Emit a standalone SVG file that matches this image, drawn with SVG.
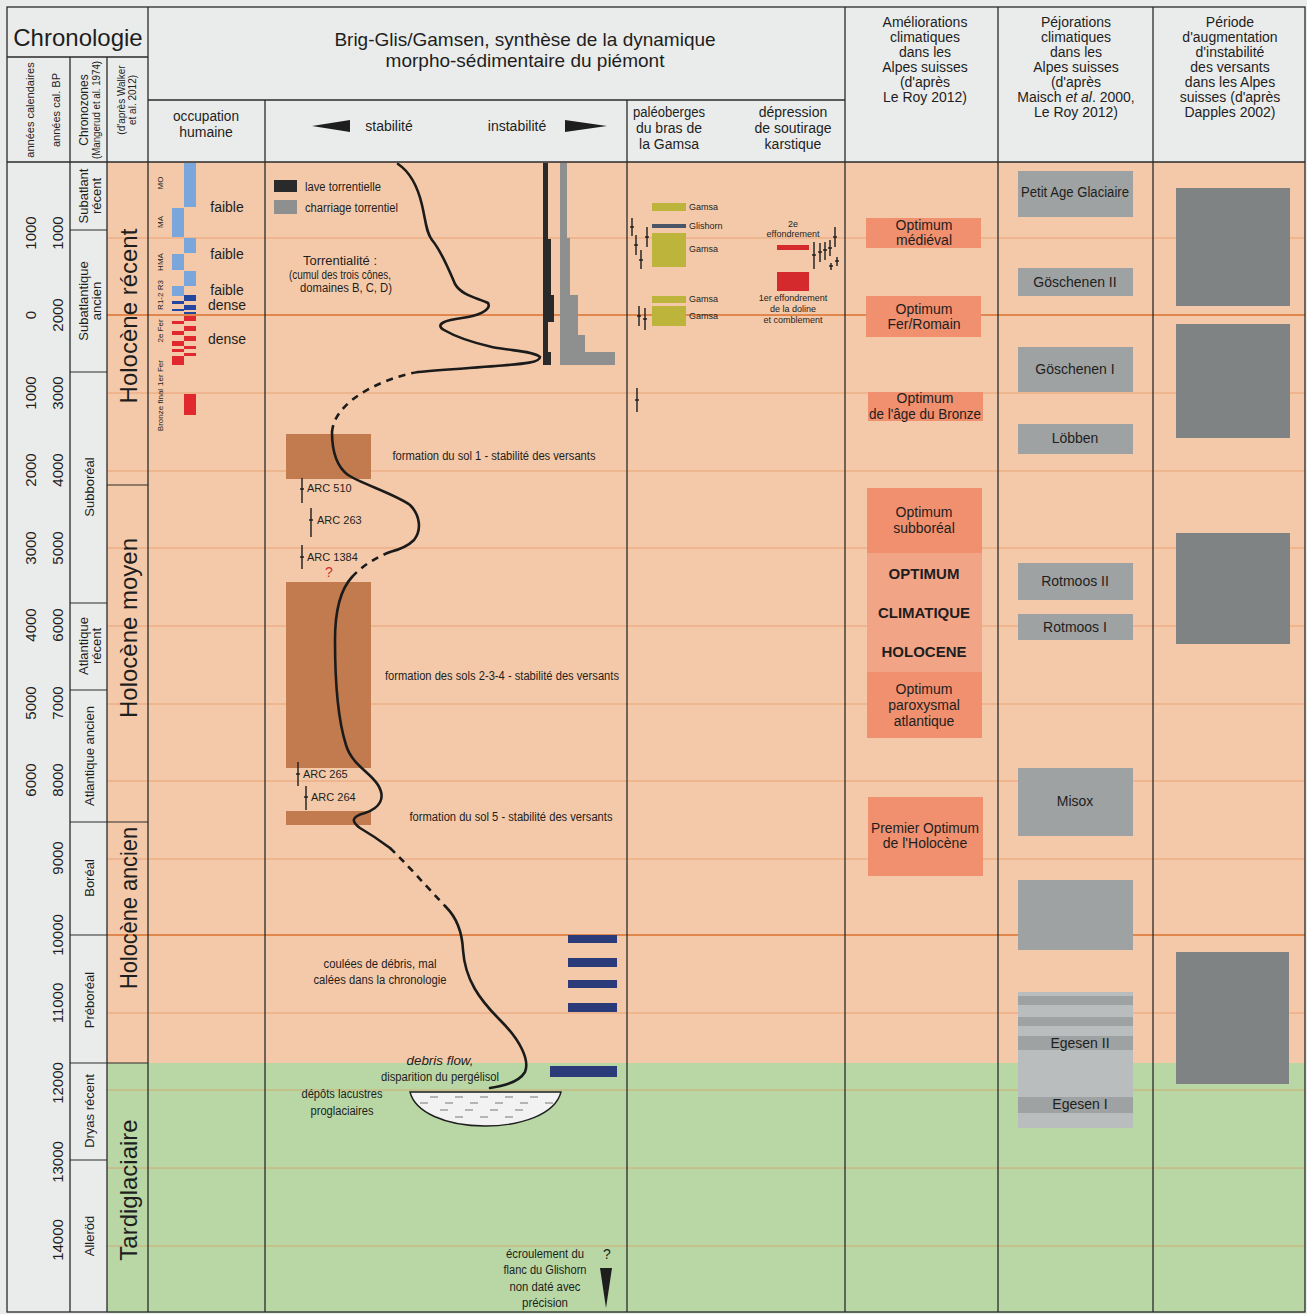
<svg xmlns="http://www.w3.org/2000/svg" width="1307" height="1314" viewBox="0 0 1307 1314">
<defs>
<style>
.t{font-family:"Liberation Sans",Arial,sans-serif;fill:#1e1e1e}
.c{text-anchor:middle}
.fr{stroke:#2a2a2a;stroke-width:1.3;fill:none}
.gr{stroke:#e3915c;stroke-width:0.8;opacity:0.8}
.gt{stroke:#d9702f;stroke-width:1.6}
.cv{fill:none;stroke:#1b1b1b;stroke-width:2.6;stroke-linecap:round}
.dash{stroke-dasharray:7 6;stroke-linecap:butt}
.soil{fill:#c27a4f}
.opt{fill:#f0906e}
.pej{fill:#9ea2a2}
.dap{fill:#7f8383}
.lb{fill:#7ba6db}
.db{fill:#2347a0}
.rd{fill:#e0282e}
.nv{fill:#2b3a78}
.gam{fill:#bdb43c}
.tk{stroke:#1b1b1b;stroke-width:1.4}
</style>
</defs>
<rect width="1307" height="1314" fill="#eaeceb"/>
<rect x="107" y="162" width="1198" height="901" fill="#f4c9a9"/>
<rect x="107" y="1063" width="1198" height="250" fill="#b8d7a5"/>
<g id="grid">
<line class="gr" x1="107" y1="238" x2="1305" y2="238"/>
<line class="gt" x1="107" y1="315" x2="1305" y2="315"/>
<line class="gr" x1="107" y1="393" x2="1305" y2="393"/>
<line class="gr" x1="107" y1="471" x2="1305" y2="471"/>
<line class="gr" x1="107" y1="548" x2="1305" y2="548"/>
<line class="gr" x1="107" y1="626" x2="1305" y2="626"/>
<line class="gr" x1="107" y1="704" x2="1305" y2="704"/>
<line class="gr" x1="107" y1="781" x2="1305" y2="781"/>
<line class="gr" x1="107" y1="859" x2="1305" y2="859"/>
<line class="gt" x1="107" y1="935" x2="1305" y2="935"/>
<line class="gr" x1="107" y1="1013" x2="1305" y2="1013"/>
<line class="gr" x1="107" y1="1090" x2="1305" y2="1090"/>
<line class="gr" x1="107" y1="1168" x2="1305" y2="1168"/>
<line class="gr" x1="107" y1="1246" x2="1305" y2="1246"/>
</g>
<g id="header">
<text class="t c" x="78" y="46" font-size="24">Chronologie</text>
<text class="t c" font-size="11" transform="translate(34,110) rotate(-90)">années calendaires</text>
<text class="t c" font-size="11" transform="translate(60,110) rotate(-90)">années cal. BP</text>
<text class="t c" font-size="12" transform="translate(88,110) rotate(-90)">Chronozones</text>
<text class="t c" font-size="11" textLength="98" lengthAdjust="spacingAndGlyphs" transform="translate(100,110) rotate(-90)">(Mangerud et al. 1974)</text>
<text class="t c" font-size="10" transform="translate(125,100) rotate(-90)">(d'après Walker</text>
<text class="t c" font-size="10" transform="translate(136,100) rotate(-90)">et al. 2012)</text>
<text class="t c" x="525" y="46" font-size="19">Brig-Glis/Gamsen, synthèse de la dynamique</text>
<text class="t c" x="525" y="67" font-size="19">morpho-sédimentaire du piémont</text>
<text class="t c" x="206" y="121" font-size="14" textLength="66" lengthAdjust="spacingAndGlyphs">occupation</text>
<text class="t c" x="206" y="137" font-size="14">humaine</text>
<polygon points="312,126 350,120 350,132" fill="#1e1e1e"/>
<text class="t c" x="389" y="131" font-size="14">stabilité</text>
<text class="t c" x="517" y="131" font-size="14">instabilité</text>
<polygon points="607,126 565,120 565,132" fill="#1e1e1e"/>
<text class="t c" x="669" y="117" font-size="14" textLength="72" lengthAdjust="spacingAndGlyphs">paléoberges</text>
<text class="t c" x="669" y="133" font-size="14">du bras de</text>
<text class="t c" x="669" y="149" font-size="14">la Gamsa</text>
<text class="t c" x="793" y="117" font-size="14">dépression</text>
<text class="t c" x="793" y="133" font-size="14">de soutirage</text>
<text class="t c" x="793" y="149" font-size="14">karstique</text>
<g font-size="14">
<text class="t c" x="925" y="27">Améliorations</text>
<text class="t c" x="925" y="42">climatiques</text>
<text class="t c" x="925" y="57">dans les</text>
<text class="t c" x="925" y="72">Alpes suisses</text>
<text class="t c" x="925" y="87">(d'après</text>
<text class="t c" x="925" y="102">Le Roy 2012)</text>
<text class="t c" x="1076" y="27">Péjorations</text>
<text class="t c" x="1076" y="42">climatiques</text>
<text class="t c" x="1076" y="57">dans les</text>
<text class="t c" x="1076" y="72">Alpes suisses</text>
<text class="t c" x="1076" y="87">(d'après</text>
<text class="t c" x="1076" y="102">Maisch <tspan font-style="italic">et al</tspan>. 2000,</text>
<text class="t c" x="1076" y="117">Le Roy 2012)</text>
<text class="t c" x="1230" y="27">Période</text>
<text class="t c" x="1230" y="42">d'augmentation</text>
<text class="t c" x="1230" y="57">d'instabilité</text>
<text class="t c" x="1230" y="72">des versants</text>
<text class="t c" x="1230" y="87">dans les Alpes</text>
<text class="t c" x="1230" y="102">suisses (d'après</text>
<text class="t c" x="1230" y="117">Dapples 2002)</text>
</g>
</g>
<g id="years" font-size="15">
<text class="t c" transform="translate(36,233) rotate(-90)">1000</text>
<text class="t c" transform="translate(36,315) rotate(-90)">0</text>
<text class="t c" transform="translate(36,393) rotate(-90)">1000</text>
<text class="t c" transform="translate(36,470) rotate(-90)">2000</text>
<text class="t c" transform="translate(36,548) rotate(-90)">3000</text>
<text class="t c" transform="translate(36,625) rotate(-90)">4000</text>
<text class="t c" transform="translate(36,703) rotate(-90)">5000</text>
<text class="t c" transform="translate(36,780) rotate(-90)">6000</text>
<text class="t c" transform="translate(63,233) rotate(-90)">1000</text>
<text class="t c" transform="translate(63,315) rotate(-90)">2000</text>
<text class="t c" transform="translate(63,393) rotate(-90)">3000</text>
<text class="t c" transform="translate(63,470) rotate(-90)">4000</text>
<text class="t c" transform="translate(63,548) rotate(-90)">5000</text>
<text class="t c" transform="translate(63,625) rotate(-90)">6000</text>
<text class="t c" transform="translate(63,703) rotate(-90)">7000</text>
<text class="t c" transform="translate(63,780) rotate(-90)">8000</text>
<text class="t c" transform="translate(63,858) rotate(-90)">9000</text>
<text class="t c" transform="translate(63,935) rotate(-90)">10000</text>
<text class="t c" transform="translate(63,1003) rotate(-90)">11000</text>
<text class="t c" transform="translate(63,1083) rotate(-90)">12000</text>
<text class="t c" transform="translate(63,1162) rotate(-90)">13000</text>
<text class="t c" transform="translate(63,1240) rotate(-90)">14000</text>
</g>
<g id="chronozones" font-size="13">
<text class="t c" transform="translate(88,196) rotate(-90)">Subatlant</text>
<text class="t c" transform="translate(101,196) rotate(-90)">récent</text>
<text class="t c" transform="translate(88,301) rotate(-90)">Subatlantique</text>
<text class="t c" transform="translate(101,301) rotate(-90)">ancien</text>
<text class="t c" transform="translate(94,487) rotate(-90)">Subboréal</text>
<text class="t c" transform="translate(88,646) rotate(-90)">Atlantique</text>
<text class="t c" transform="translate(101,646) rotate(-90)">récent</text>
<text class="t c" transform="translate(94,756) rotate(-90)">Atlantique ancien</text>
<text class="t c" transform="translate(94,878) rotate(-90)">Boréal</text>
<text class="t c" transform="translate(94,1000) rotate(-90)">Préboréal</text>
<text class="t c" transform="translate(94,1111) rotate(-90)">Dryas récent</text>
<text class="t c" transform="translate(94,1236) rotate(-90)">Alleröd</text>
</g>
<g id="walker" font-size="24">
<text class="t c" transform="translate(137,316) rotate(-90)">Holocène récent</text>
<text class="t c" transform="translate(137,628) rotate(-90)">Holocène moyen</text>
<text class="t c" transform="translate(137,908) rotate(-90)" textLength="162" lengthAdjust="spacingAndGlyphs">Holocène ancien</text>
<text class="t c" transform="translate(137,1190) rotate(-90)">Tardiglaciaire</text>
</g>
<g id="occupation">
<g font-size="8">
<text class="t c" transform="translate(163,183) rotate(-90)">MO</text>
<text class="t c" transform="translate(163,222) rotate(-90)">MA</text>
<text class="t c" transform="translate(163,262) rotate(-90)">HMA</text>
<text class="t c" transform="translate(163,295) rotate(-90)">R1-2 R3</text>
<text class="t c" transform="translate(163,331) rotate(-90)">2e Fer</text>
<text class="t c" transform="translate(163,373) rotate(-90)">1er Fer</text>
<text class="t c" transform="translate(163,410) rotate(-90)">Bronze final</text>
</g>
<rect class="lb" x="184" y="163" width="12" height="44"/>
<rect class="lb" x="172" y="208" width="12" height="29"/>
<rect class="lb" x="184" y="238" width="12" height="15"/>
<rect class="lb" x="172" y="254" width="12" height="16"/>
<rect class="lb" x="184" y="271" width="12" height="15"/>
<rect class="lb" x="172" y="286" width="12" height="10"/>
<rect class="db" x="184" y="295" width="12" height="6"/>
<rect class="db" x="172" y="301" width="12" height="3"/>
<rect class="db" x="184" y="305" width="12" height="5"/>
<rect class="db" x="172" y="309" width="12" height="2"/>
<rect class="db" x="184" y="312" width="12" height="2"/>
<rect class="rd" x="184" y="316" width="12" height="5"/>
<rect class="rd" x="172" y="321" width="12" height="3"/>
<rect class="rd" x="184" y="326" width="12" height="5"/>
<rect class="rd" x="172" y="331" width="12" height="4"/>
<rect class="rd" x="184" y="336" width="12" height="5"/>
<rect class="rd" x="172" y="341" width="12" height="5"/>
<rect class="rd" x="184" y="346" width="12" height="3"/>
<rect class="rd" x="172" y="349" width="12" height="3"/>
<rect class="rd" x="184" y="353" width="12" height="3"/>
<rect class="rd" x="172" y="356" width="12" height="9"/>
<rect class="rd" x="184" y="394" width="12" height="21"/>
<g font-size="14">
<text class="t c" x="227" y="212">faible</text>
<text class="t c" x="227" y="259">faible</text>
<text class="t c" x="227" y="295">faible</text>
<text class="t c" x="227" y="310">dense</text>
<text class="t c" x="227" y="344">dense</text>
</g>
</g>
<g id="legend">
<rect x="274" y="180" width="23" height="12" fill="#2a2a2a"/>
<text class="t" x="305" y="191" font-size="12" textLength="76" lengthAdjust="spacingAndGlyphs">lave torrentielle</text>
<rect x="274" y="200" width="23" height="14" fill="#8e9090"/>
<text class="t" x="305" y="212" font-size="12" textLength="93" lengthAdjust="spacingAndGlyphs">charriage torrentiel</text>
<text class="t c" x="340" y="265" font-size="12" textLength="74" lengthAdjust="spacingAndGlyphs">Torrentialité :</text>
<text class="t c" x="340" y="279" font-size="12" textLength="102" lengthAdjust="spacingAndGlyphs">(cumul des trois cônes,</text>
<text class="t c" x="346" y="292" font-size="12" textLength="92" lengthAdjust="spacingAndGlyphs">domaines B, C, D)</text>
</g>
<g id="torrent-bars">
<rect x="543" y="163" width="5" height="202" fill="#2a2a2a"/>
<rect x="543" y="239" width="8" height="56" fill="#2a2a2a"/>
<rect x="543" y="295" width="11" height="27" fill="#2a2a2a"/>
<rect x="543" y="352" width="8" height="13" fill="#2a2a2a"/>
<rect x="560" y="163" width="7" height="202" fill="#8e9090"/>
<rect x="560" y="238" width="10" height="57" fill="#8e9090"/>
<rect x="560" y="295" width="18" height="40" fill="#8e9090"/>
<rect x="560" y="335" width="25" height="17" fill="#8e9090"/>
<rect x="560" y="352" width="55" height="13" fill="#8e9090"/>
</g>
<g id="soils">
<rect class="soil" x="286" y="434" width="85" height="45"/>
<rect class="soil" x="286" y="582" width="85" height="186"/>
<rect class="soil" x="286" y="811" width="85" height="14"/>
<text class="t c" x="494" y="460" font-size="12" textLength="203" lengthAdjust="spacingAndGlyphs">formation du sol 1 - stabilité des versants</text>
<text class="t c" x="502" y="680" font-size="12" textLength="234" lengthAdjust="spacingAndGlyphs">formation des sols 2-3-4 - stabilité des versants</text>
<text class="t c" x="511" y="821" font-size="12" textLength="203" lengthAdjust="spacingAndGlyphs">formation du sol 5 - stabilité des versants</text>
</g>
<g id="arc-dates" font-size="11">
<line class="tk" x1="302" y1="478" x2="302" y2="503"/><line class="tk" x1="300" y1="489" x2="304" y2="489"/>
<text class="t" x="307" y="492">ARC 510</text>
<line class="tk" x1="311" y1="508" x2="311" y2="537"/><line class="tk" x1="309" y1="520" x2="313" y2="520"/>
<text class="t" x="317" y="524">ARC 263</text>
<line class="tk" x1="302" y1="545" x2="302" y2="569"/><line class="tk" x1="300" y1="557" x2="304" y2="557"/>
<text class="t" x="307" y="561">ARC 1384</text>
<text class="t c" x="329" y="577" font-size="14" style="fill:#d03030">?</text>
<line class="tk" x1="298" y1="762" x2="298" y2="786"/><line class="tk" x1="296" y1="774" x2="300" y2="774"/>
<text class="t" x="303" y="778">ARC 265</text>
<line class="tk" x1="306" y1="786" x2="306" y2="810"/><line class="tk" x1="304" y1="797" x2="308" y2="797"/>
<text class="t" x="311" y="801">ARC 264</text>
</g>
<g id="connectors">
<path class="cv" d="M398,164 C410,172 418,188 422,205 C426,222 426,232 432,240 C442,252 448,268 455,284 C462,296 478,298 488,303 C492,310 478,316 462,318 C446,320 434,324 444,330 C456,337 470,342 492,347 C512,351 534,351 540,357 C540,363 520,364 496,366 C470,368 440,370 418,372"/>
<path class="cv dash" d="M418,372 C395,376 370,386 352,400 C340,410 333,420 332,432"/>
<path class="cv" d="M332,432 C332,450 336,466 348,475 C362,484 395,494 410,505 C420,515 422,530 414,540 C408,546 398,550 390,552"/>
<path class="cv dash" d="M390,552 C375,558 362,566 352,577"/>
<path class="cv" d="M352,577 C340,590 335,610 335,640 C335,680 338,720 346,745 C352,765 370,772 378,785 C386,798 380,808 365,813 C350,817 352,822 360,828 C372,835 382,842 390,848"/>
<path class="cv dash" d="M390,848 C405,862 425,885 446,907"/>
<path class="cv" d="M446,907 C455,916 462,930 463,950 C465,980 480,1000 500,1020 C520,1040 530,1060 525,1072 C519,1082 505,1086 490,1088"/>
</g>
<g id="debris">
<rect class="nv" x="568" y="935" width="49" height="8"/>
<rect class="nv" x="568" y="958" width="49" height="9"/>
<rect class="nv" x="568" y="980" width="49" height="8"/>
<rect class="nv" x="568" y="1003" width="49" height="9"/>
<rect class="nv" x="550" y="1066" width="67" height="11"/>
<text class="t c" x="380" y="968" font-size="12" textLength="113" lengthAdjust="spacingAndGlyphs">coulées de débris, mal</text>
<text class="t c" x="380" y="984" font-size="12" textLength="133" lengthAdjust="spacingAndGlyphs">calées dans la chronologie</text>
<text class="t c" x="440" y="1065" font-size="12" font-style="italic" textLength="67" lengthAdjust="spacingAndGlyphs">debris flow,</text>
<text class="t c" x="440" y="1081" font-size="12" textLength="118" lengthAdjust="spacingAndGlyphs">disparition du pergélisol</text>
<text class="t c" x="342" y="1098" font-size="12" textLength="81" lengthAdjust="spacingAndGlyphs">dépôts lacustres</text>
<text class="t c" x="342" y="1115" font-size="12" textLength="63" lengthAdjust="spacingAndGlyphs">proglaciaires</text>
</g>
<g id="lake">
<path d="M410,1092 L561,1092 C555,1115 520,1126 485,1126 C445,1126 415,1112 410,1092 Z" fill="#f1f2f1" stroke="#1e1e1e" stroke-width="1.4"/>
<g stroke="#777" stroke-width="1">
<line x1="430" y1="1097" x2="438" y2="1097"/><line x1="455" y1="1097" x2="463" y2="1097"/><line x1="480" y1="1097" x2="488" y2="1097"/><line x1="505" y1="1097" x2="513" y2="1097"/><line x1="530" y1="1097" x2="538" y2="1097"/>
<line x1="420" y1="1103" x2="428" y2="1103"/><line x1="445" y1="1103" x2="453" y2="1103"/><line x1="470" y1="1103" x2="478" y2="1103"/><line x1="495" y1="1103" x2="503" y2="1103"/><line x1="520" y1="1103" x2="528" y2="1103"/><line x1="545" y1="1103" x2="553" y2="1103"/>
<line x1="440" y1="1110" x2="448" y2="1110"/><line x1="465" y1="1110" x2="473" y2="1110"/><line x1="490" y1="1110" x2="498" y2="1110"/><line x1="515" y1="1110" x2="523" y2="1110"/>
<line x1="455" y1="1117" x2="463" y2="1117"/><line x1="480" y1="1117" x2="488" y2="1117"/><line x1="505" y1="1117" x2="513" y2="1117"/>
</g>
</g>
<g id="ecroulement">
<text class="t c" x="545" y="1258" font-size="12" textLength="78" lengthAdjust="spacingAndGlyphs">écroulement du</text>
<text class="t c" x="545" y="1274" font-size="12" textLength="83" lengthAdjust="spacingAndGlyphs">flanc du Glishorn</text>
<text class="t c" x="545" y="1291" font-size="12" textLength="71" lengthAdjust="spacingAndGlyphs">non daté avec</text>
<text class="t c" x="545" y="1307" font-size="12" textLength="46" lengthAdjust="spacingAndGlyphs">précision</text>
<text class="t c" x="607" y="1259" font-size="14">?</text>
<polygon points="600,1268 612,1268 606,1308" fill="#1e1e1e"/>
</g>
<g id="paleoberges" font-size="9">
<rect class="gam" x="652" y="203" width="34" height="8"/>
<text class="t" x="689" y="210">Gamsa</text>
<rect x="652" y="224" width="34" height="4" fill="#4a5568"/>
<text class="t" x="689" y="229">Glishorn</text>
<rect class="gam" x="652" y="233" width="34" height="34"/>
<text class="t" x="689" y="252">Gamsa</text>
<rect class="gam" x="652" y="296" width="34" height="7"/>
<text class="t" x="689" y="302">Gamsa</text>
<rect class="gam" x="652" y="306" width="34" height="20"/>
<text class="t" x="689" y="319">Gamsa</text>
<line class="tk" x1="632" y1="218" x2="632" y2="236"/><line class="tk" x1="630" y1="227" x2="634" y2="227"/>
<line class="tk" x1="636" y1="235" x2="636" y2="255"/><line class="tk" x1="634" y1="245" x2="638" y2="245"/>
<line class="tk" x1="641" y1="250" x2="641" y2="269"/><line class="tk" x1="639" y1="260" x2="643" y2="260"/>
<line class="tk" x1="647" y1="227" x2="647" y2="247"/><line class="tk" x1="645" y1="237" x2="649" y2="237"/>
<line class="tk" x1="639" y1="306" x2="639" y2="326"/><line class="tk" x1="637" y1="316" x2="641" y2="316"/>
<line class="tk" x1="645" y1="308" x2="645" y2="330"/><line class="tk" x1="643" y1="319" x2="647" y2="319"/>
<line class="tk" x1="637" y1="388" x2="637" y2="412"/><line class="tk" x1="635" y1="400" x2="639" y2="400"/>
</g>
<g id="depression" font-size="9">
<text class="t c" x="793" y="227">2e</text>
<text class="t c" x="793" y="237">effondrement</text>
<rect x="777" y="245" width="32" height="5" fill="#d42a2e"/>
<rect x="777" y="272" width="32" height="19" fill="#d42a2e"/>
<text class="t c" x="793" y="301">1er effondrement</text>
<text class="t c" x="793" y="312">de la doline</text>
<text class="t c" x="793" y="323">et comblement</text>
<line class="tk" x1="814" y1="242" x2="814" y2="269"/><line class="tk" x1="812" y1="255" x2="816" y2="255"/>
<line class="tk" x1="820" y1="243" x2="820" y2="262"/><line class="tk" x1="818" y1="252" x2="822" y2="252"/>
<line class="tk" x1="825" y1="242" x2="825" y2="260"/><line class="tk" x1="823" y1="250" x2="827" y2="250"/>
<line class="tk" x1="830" y1="240" x2="830" y2="256"/><line class="tk" x1="828" y1="248" x2="832" y2="248"/>
<line class="tk" x1="835" y1="227" x2="835" y2="247"/><line class="tk" x1="833" y1="237" x2="837" y2="237"/>
<line class="tk" x1="831" y1="263" x2="831" y2="270"/><line class="tk" x1="829" y1="266" x2="833" y2="266"/>
<line class="tk" x1="837" y1="257" x2="837" y2="266"/><line class="tk" x1="835" y1="261" x2="839" y2="261"/>
</g>
<g id="ameliorations" font-size="14">
<rect class="opt" x="866" y="218" width="115" height="30"/>
<text class="t c" x="924" y="230">Optimum</text>
<text class="t c" x="924" y="245">médiéval</text>
<rect class="opt" x="866" y="296" width="115" height="41"/>
<text class="t c" x="924" y="314">Optimum</text>
<text class="t c" x="924" y="329">Fer/Romain</text>
<rect class="opt" x="868" y="392" width="115" height="29"/>
<text class="t c" x="925" y="403">Optimum</text>
<text class="t c" x="925" y="419" textLength="112" lengthAdjust="spacingAndGlyphs">de l'âge du Bronze</text>
<rect class="opt" x="867" y="488" width="115" height="65"/>
<text class="t c" x="924" y="517">Optimum</text>
<text class="t c" x="924" y="533">subboréal</text>
<rect x="867" y="553" width="115" height="119" fill="#f2a487"/>
<text class="t c" x="924" y="579" font-size="15" font-weight="bold">OPTIMUM</text>
<text class="t c" x="924" y="618" font-size="15" font-weight="bold">CLIMATIQUE</text>
<text class="t c" x="924" y="657" font-size="15" font-weight="bold">HOLOCENE</text>
<rect class="opt" x="867" y="672" width="115" height="66"/>
<text class="t c" x="924" y="694">Optimum</text>
<text class="t c" x="924" y="710">paroxysmal</text>
<text class="t c" x="924" y="726">atlantique</text>
<rect class="opt" x="868" y="797" width="115" height="79"/>
<text class="t c" x="925" y="833" textLength="108" lengthAdjust="spacingAndGlyphs">Premier Optimum</text>
<text class="t c" x="925" y="848">de l'Holocène</text>
</g>
<g id="pejorations" font-size="14">
<rect class="pej" x="1018" y="171" width="115" height="46"/>
<text class="t c" x="1075" y="197" textLength="108" lengthAdjust="spacingAndGlyphs">Petit Age Glaciaire</text>
<rect class="pej" x="1018" y="268" width="115" height="28"/>
<text class="t c" x="1075" y="287">Göschenen II</text>
<rect class="pej" x="1018" y="347" width="115" height="45"/>
<text class="t c" x="1075" y="374">Göschenen I</text>
<rect class="pej" x="1018" y="424" width="115" height="30"/>
<text class="t c" x="1075" y="443">Löbben</text>
<rect class="pej" x="1018" y="563" width="115" height="37"/>
<text class="t c" x="1075" y="586">Rotmoos II</text>
<rect class="pej" x="1018" y="614" width="115" height="26"/>
<text class="t c" x="1075" y="632">Rotmoos I</text>
<rect class="pej" x="1018" y="768" width="115" height="68"/>
<text class="t c" x="1075" y="806">Misox</text>
<rect class="pej" x="1018" y="880" width="115" height="70"/>
<rect x="1018" y="992" width="115" height="136" fill="#b9bdbd"/>
<rect class="pej" x="1018" y="996" width="115" height="9"/>
<rect class="pej" x="1018" y="1017" width="115" height="9"/>
<rect class="pej" x="1018" y="1036" width="115" height="14"/>
<text class="t c" x="1080" y="1048">Egesen II</text>
<rect class="pej" x="1018" y="1097" width="115" height="16"/>
<text class="t c" x="1080" y="1109">Egesen I</text>
</g>
<g id="dapples">
<rect class="dap" x="1176" y="188" width="114" height="118"/>
<rect class="dap" x="1176" y="324" width="114" height="114"/>
<rect class="dap" x="1176" y="533" width="114" height="111"/>
<rect class="dap" x="1176" y="952" width="113" height="132"/>
</g>
<g id="frame">
<rect class="fr" x="7" y="7" width="1298" height="1305"/>
<line class="fr" x1="7" y1="57" x2="148" y2="57"/>
<line class="fr" x1="148" y1="100" x2="845" y2="100"/>
<line class="fr" x1="7" y1="162" x2="1305" y2="162"/>
<line class="fr" x1="70" y1="57" x2="70" y2="1312"/>
<line class="fr" x1="107" y1="57" x2="107" y2="1312"/>
<line class="fr" x1="148" y1="7" x2="148" y2="1312"/>
<line class="fr" x1="265" y1="100" x2="265" y2="1312"/>
<line class="fr" x1="627" y1="100" x2="627" y2="1312"/>
<line class="fr" x1="845" y1="7" x2="845" y2="1312"/>
<line class="fr" x1="998" y1="7" x2="998" y2="1312"/>
<line class="fr" x1="1153" y1="7" x2="1153" y2="1312"/>
<g stroke="#2a2a2a" stroke-width="1">
<line x1="70" y1="230" x2="107" y2="230"/>
<line x1="70" y1="372" x2="107" y2="372"/>
<line x1="70" y1="603" x2="107" y2="603"/>
<line x1="70" y1="690" x2="107" y2="690"/>
<line x1="70" y1="822" x2="107" y2="822"/>
<line x1="70" y1="935" x2="107" y2="935"/>
<line x1="70" y1="1063" x2="107" y2="1063"/>
<line x1="70" y1="1160" x2="107" y2="1160"/>
<line x1="107" y1="485" x2="148" y2="485"/>
<line x1="107" y1="822" x2="148" y2="822"/>
<line x1="107" y1="1063" x2="148" y2="1063"/>
</g>
</g>
</svg>
